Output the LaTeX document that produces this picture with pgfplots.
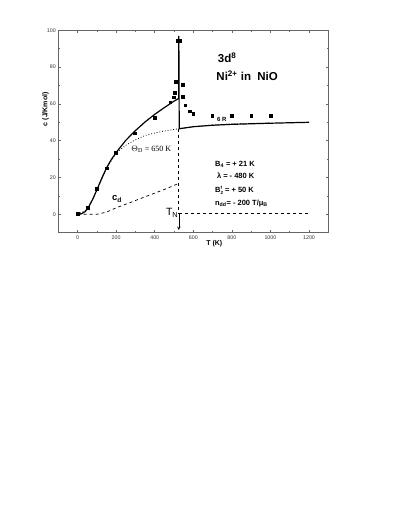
\documentclass[border=0pt]{standalone}
\usepackage{pgfplots}
\pgfplotsset{compat=1.18}
\usepackage{fontspec}
\setmainfont{Liberation Sans}
\newfontfamily\seriffont{Liberation Serif}
\begin{document}
\begin{tikzpicture}[x=1pt,y=1pt]
\useasboundingbox (0,0) rectangle (392,508);
\begin{axis}[
  at={(58.3pt,275.3pt)}, anchor=south west,
  width=270pt, height=202.4pt, scale only axis,
  xmin=-100, xmax=1300, ymin=-10, ymax=100,
  xtick={0,200,...,1200}, ytick={0,20,...,100},
  minor x tick num=1, minor y tick num=1,
  major tick length=2.5pt, minor tick length=1.5pt,
  axis line style={black!60, line width=0.7pt},
  every tick/.style={black!60, line width=0.5pt},
  /pgf/number format/assume math mode=true,
  /pgf/number format/1000 sep={},
  tick label style={font=\fontsize{5.3}{6}\selectfont, text=black!80},
  xticklabel style={yshift=0pt},
  yticklabel style={xshift=1pt},
  xlabel={\bfseries T (K)},
  ylabel={\bfseries c (J/Kmol)},
  label style={font=\fontsize{7}{8}\selectfont},
  xlabel style={at={(axis description cs:0.578,-0.052)}, anchor=center},
  ylabel style={at={(axis description cs:-0.047,0.61)}, anchor=center},
  clip=false,
]
% Debye curve (dotted)
\addplot[black, dotted, line width=0.8pt] coordinates {
 (0,0) (50,2.5) (100,13) (150,25) (200,33.3) (250,37.5) (300,40.5) (350,42.8)
 (400,44.2) (450,45.3) (525,46.5) (600,47.6) (700,48.5) (800,49.1) (900,49.4) (1000,49.6)};
% c_d (dashed)
\addplot[black, dashed, line width=0.7pt] coordinates {
 (0,0) (100,0) (150,1.2) (200,3.5) (250,5.5) (300,7.5) (350,9.5) (400,11.5) (450,13.5) (525,16.8)};
\addplot[black, dashed, line width=0.7pt] coordinates {(525,46.5) (525,0)};
\addplot[black, dashed, line width=0.7pt] coordinates {(525,0.3) (1200,0.3)};
\addplot[black, ->, >=stealth, line width=0.5pt] coordinates {(525,0) (525,-8.5)};
% model curve (solid)
\addplot[black, line width=1.2pt] coordinates {
 (0,0) (20,0.3) (40,1.5) (60,4.5) (80,8.5) (100,13.3) (125,19.5) (150,25.2) (175,29.8)
 (200,33.6) (250,40.2) (300,45.5) (350,50.2) (400,54.3) (450,58) (500,61.5) (525,63)
 (525,97) (527,46.5) (600,47.6) (700,48.4) (800,48.9) (1000,49.5) (1200,50)};
% data
\addplot[only marks, mark=square*, mark size=1.4pt, black] coordinates {
 (0,0.4) (52,3.4) (99,13.9) (151,25) (199,33.5) (298,44.1) (398,52.6) (480,60.9)
 (499,63.6) (502,66.1) (509,72.1) (521,94.2) (530,94.2) (544,70.6) (547,64.1)
 (558,59.3) (580,56) (599,54.8) (698,53.7) (800,53.7) (900,53.7) (1003,53.7)};
% annotations
\node[anchor=west, font=\fontsize{11.5}{13}\selectfont\bfseries, inner sep=0pt] at (axis cs:727,85.2) {3d\textsuperscript{8}};
\node[anchor=west, font=\fontsize{11.5}{13}\selectfont\bfseries, inner sep=0pt] at (axis cs:719,75.4) {Ni\textsuperscript{2+} in\ \ NiO};
\node[anchor=west, font=\fontsize{6}{7}\selectfont\bfseries, inner sep=0pt] at (axis cs:722,51.7) {6 R};
\node[anchor=west, font=\fontsize{8}{9}\selectfont\seriffont, inner sep=0pt] at (axis cs:278,35.5) {$\Theta$\textsubscript{D} = 650 K};
\node[anchor=west, font=\fontsize{9.5}{10}\selectfont\bfseries, inner sep=0pt] at (axis cs:178,8.3) {c\textsubscript{d}};
\node[anchor=east, font=\fontsize{10.5}{11}\selectfont, inner sep=0pt] at (axis cs:523,0.6) {T\textsubscript{N}};
\begin{scope}[font=\fontsize{7.5}{8}\selectfont\bfseries]
\node[anchor=west, inner sep=0pt] at (axis cs:712,27.2) {B\textsubscript{4} = + 21 K};
\node[anchor=west, inner sep=0pt] at (axis cs:722,20.8) {λ = - 480 K};
\node[anchor=west, inner sep=0pt] at (axis cs:712,13.2) {B\rlap{\raisebox{3.6pt}{\fontsize{4.5}{5}\selectfont f}}\raisebox{-1.6pt}{\fontsize{4.5}{5}\selectfont 2} = + 50 K};
\node[anchor=west, inner sep=0pt] at (axis cs:712,6.1) {n\textsubscript{dd}= - 200 T/μ\textsubscript{B}};
\end{scope}
\end{axis}
\end{tikzpicture}
\end{document}
